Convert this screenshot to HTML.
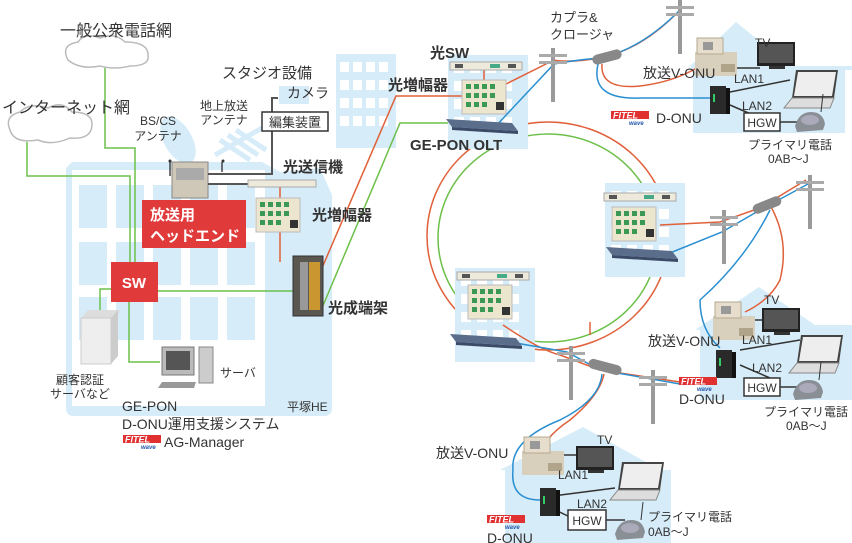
<!DOCTYPE html>
<html><head><meta charset="utf-8"><style>
html,body{margin:0;padding:0;background:#fff}
svg{display:block}
text{font-family:"Liberation Sans","Noto Sans CJK JP",sans-serif;fill:#333}
.b{font-weight:bold}
</style></head><body>
<svg width="852" height="543" viewBox="0 0 852 543" xmlns="http://www.w3.org/2000/svg">
<defs>
 <g id="amp"><rect x="0" y="0" width="44" height="34" fill="#ece6cf" stroke="#bbb"/>
  <g fill="#3a9a55"><rect x="4" y="4" width="5" height="5"/><rect x="12" y="4" width="5" height="5"/><rect x="20" y="4" width="5" height="5"/><rect x="28" y="4" width="5" height="5"/>
  <rect x="4" y="13" width="5" height="5"/><rect x="12" y="13" width="5" height="5"/><rect x="20" y="13" width="5" height="5"/><rect x="28" y="13" width="5" height="5"/>
  <rect x="4" y="22" width="5" height="5"/><rect x="12" y="22" width="5" height="5"/><rect x="20" y="22" width="5" height="5"/></g>
  <rect x="34" y="22" width="8" height="8" fill="#333"/></g>
 <g id="sw1"><rect x="0" y="0" width="72" height="8" fill="#eeeadb" stroke="#aaa"/><rect x="5" y="2" width="8" height="4" fill="#555"/><rect x="40" y="2" width="10" height="4" fill="#4a8"/><rect x="58" y="2" width="8" height="4" fill="#555"/></g>
 <g id="olt"><polygon points="0,0 66,4 72,12 6,8" fill="#5a6e8c"/><polygon points="6,8 72,12 72,15 6,11" fill="#3b4a66"/></g>
 <g id="vonu"><rect x="0" y="6" width="42" height="24" fill="#d9cfbd"/><rect x="2" y="-8" width="26" height="16" fill="#e6ddcc" stroke="#b5a98f"/><rect x="8" y="-4" width="10" height="8" fill="#999"/><rect x="26" y="18" width="14" height="8" fill="#b0a48a"/></g>
 <g id="tv"><rect x="0" y="0" width="38" height="24" fill="#222"/><rect x="2" y="2" width="34" height="19" fill="#555"/><rect x="12" y="24" width="16" height="3" fill="#333"/></g>
 <g id="lap"><polygon points="6,0 48,0 44,28 2,28" fill="#444"/><polygon points="8,2 46,2 42,26 4,26" fill="#eee"/><polygon points="2,28 44,28 40,38 -6,38" fill="#ddd" stroke="#888"/></g>
 <g id="phone"><path d="M0,18 Q4,4 16,4 Q28,4 30,16 L28,22 L2,24 Z" fill="#8a8f96"/><ellipse cx="15" cy="12" rx="9" ry="5" fill="#aab"/><line x1="26" y1="4" x2="28" y2="-14" stroke="#333"/></g>
 <g id="donu"><rect x="0" y="0" width="16" height="28" fill="#2a2a2a"/><rect x="16" y="2" width="4" height="26" fill="#111"/><rect x="3" y="8" width="2" height="8" fill="#3c6"/></g>
 <g id="fitel"><rect x="0" y="1" width="38" height="8" fill="#e03030"/><text x="2" y="8.5" font-size="9" font-weight="bold" style="fill:#fff;font-style:italic">FITEL</text><text x="18" y="15" font-size="6" style="fill:#2255aa;font-style:italic;font-weight:bold">wave</text></g>
 <g id="pole"><rect x="-2" y="0" width="4" height="54" fill="#9a9a9a"/><rect x="-14" y="6" width="28" height="3" fill="#aaa"/><rect x="-14" y="13" width="28" height="3" fill="#aaa"/></g>
 <g id="bld"><rect x="0" y="0" width="80" height="94" fill="#d6ecf8"/>
  <g fill="#fff"><rect x="6" y="8" width="10" height="10"/><rect x="22" y="8" width="10" height="10"/><rect x="38" y="8" width="10" height="10"/><rect x="54" y="8" width="10" height="10"/>
  <rect x="6" y="26" width="10" height="10"/><rect x="22" y="26" width="10" height="10"/><rect x="38" y="26" width="10" height="10"/><rect x="54" y="26" width="10" height="10"/>
  <rect x="6" y="44" width="10" height="10"/><rect x="22" y="44" width="10" height="10"/><rect x="38" y="44" width="10" height="10"/><rect x="54" y="44" width="10" height="10"/>
  <rect x="6" y="62" width="10" height="10"/><rect x="22" y="62" width="10" height="10"/><rect x="38" y="62" width="10" height="10"/><rect x="54" y="62" width="10" height="10"/></g></g>
</defs>

<path d="M690,66 L736,22 L790,66 L852,66 L852,70 L845,70 L845,133 L693,133 L693,70 Z" fill="#d6ecf8"/>
<path d="M695,330 L759,287 L815,325 L852,325 L852,400 L700,400 L700,330 Z" fill="#d6ecf8"/>
<path d="M500,470 L583,427 L660,470 L671,470 L671,543 L505,543 L505,470 Z" fill="#d6ecf8"/>

<g transform="translate(336,54)"><rect width="60" height="94" fill="#d6ecf8"/><g fill="#fff"><rect x="4" y="8" width="9" height="10"/><rect x="17" y="8" width="9" height="10"/><rect x="30" y="8" width="9" height="10"/><rect x="43" y="8" width="9" height="10"/><rect x="4" y="26" width="9" height="10"/><rect x="17" y="26" width="9" height="10"/><rect x="30" y="26" width="9" height="10"/><rect x="43" y="26" width="9" height="10"/><rect x="4" y="44" width="9" height="10"/><rect x="17" y="44" width="9" height="10"/><rect x="30" y="44" width="9" height="10"/><rect x="43" y="44" width="9" height="10"/><rect x="4" y="62" width="9" height="10"/><rect x="17" y="62" width="9" height="10"/><rect x="30" y="62" width="9" height="10"/><rect x="43" y="62" width="9" height="10"/></g></g>

<path d="M72,162 L262,162 L280,172 L320,168 L332,195 L332,408 Q332,416 324,416 L74,416 Q66,416 66,408 L66,168 Z" fill="#d6ecf8"/>
<rect x="72" y="170" width="193" height="236" fill="#fff"/>
<g fill="#d6ecf8">
<rect x="79" y="185" width="28" height="43"/><rect x="116" y="185" width="28" height="43"/><rect x="153" y="185" width="28" height="43"/><rect x="190" y="185" width="28" height="43"/><rect x="227" y="185" width="28" height="43"/>
<rect x="79" y="242" width="28" height="43"/><rect x="116" y="242" width="28" height="43"/><rect x="153" y="242" width="28" height="43"/><rect x="190" y="242" width="28" height="43"/><rect x="227" y="242" width="28" height="43"/>
<rect x="79" y="297" width="28" height="43"/><rect x="116" y="297" width="28" height="43"/><rect x="153" y="297" width="28" height="43"/><rect x="190" y="297" width="28" height="43"/><rect x="227" y="297" width="28" height="43"/>
</g>
<ellipse cx="178" cy="140" rx="14" ry="26" fill="#d6ecf8" transform="rotate(-30 178 140)"/>
<path d="M215,155 L262,128 M220,140 L250,160 M228,135 L258,155 M236,130 L266,150" stroke="#d6ecf8" stroke-width="5"/>
<rect x="279" y="86" width="30" height="18" fill="#d6ecf8"/>

<g fill="#fff" stroke="#bbb" stroke-width="1.5">
<path d="M68,60 Q60,45 78,42 Q85,32 100,38 Q115,32 125,42 Q148,42 148,55 Q150,66 130,66 Q115,70 100,66 Q80,70 68,60 Z"/>
<path d="M10,130 Q4,116 20,112 Q30,102 48,108 Q62,100 72,112 Q92,112 92,124 Q92,140 70,138 Q52,146 38,140 Q14,144 10,130 Z"/>
</g>

<g stroke="#6cc04a" stroke-width="1.5" fill="none">
<path d="M105,68 V148 H135 V264"/>
<path d="M27,142 V176 H130 V264"/>
<path d="M111,289 H100 V318"/>
<path d="M129,302 V362 H160"/>
<path d="M158,291 H295"/>
<path d="M322,308 L400,123 H452"/>
</g>
<ellipse cx="548" cy="236" rx="121" ry="114" fill="none" stroke="#e0603a" stroke-width="1.5"/>
<ellipse cx="548" cy="238" rx="110" ry="104" fill="none" stroke="#6cc04a" stroke-width="1.5"/>
<use href="#bld" x="605" y="183"/>
<use href="#bld" x="455" y="268"/>
<use href="#bld" x="448" y="55"/>

<g stroke="#e0603a" stroke-width="1.5" fill="none">
<path d="M280,186 V262"/>
<path d="M322,268 L396,96 H462"/>
<path d="M484,62 V82"/>
<path d="M506,84 L550,62"/>
<path d="M553,60 Q570,63 600,58 Q640,50 676,14"/>
<path d="M602,64 Q600,90 640,86 Q690,80 720,50"/>
<path d="M503,325 Q540,350 560,355 L600,370 L680,382"/>
<path d="M604,374 Q600,395 570,420 Q540,440 540,460"/>
<path d="M660,225 L720,222 L760,208 L806,180"/>
<path d="M770,205 Q790,240 780,280 Q770,300 745,312"/>
<path d="M590,322 V335"/>
</g>
<g stroke="#2a8fd0" stroke-width="1.5" fill="none">
<path d="M494,128 L554,64 Q575,60 600,58 Q640,50 680,10"/>
<path d="M598,64 Q590,100 640,98 L712,98"/>
<path d="M510,342 L567,352 L600,370 L680,384"/>
<path d="M602,374 Q600,400 560,420 Q510,440 513,470 Q510,500 540,500"/>
<path d="M665,255 L722,232 L760,210 L808,184"/>
<path d="M770,210 Q745,260 700,300 Q700,330 720,348"/>
</g>

<use href="#pole" x="553" y="48"/>
<use href="#pole" x="680" y="0"/>
<rect x="592" y="52" width="30" height="10" rx="5" fill="#888" transform="rotate(-15 607 57)"/>
<use href="#pole" x="724" y="210"/>
<use href="#pole" x="810" y="175"/>
<rect x="752" y="200" width="30" height="10" rx="5" fill="#888" transform="rotate(-22 767 205)"/>
<use href="#pole" x="571" y="346"/>
<use href="#pole" x="653" y="370"/>
<rect x="588" y="362" width="34" height="10" rx="5" fill="#888" transform="rotate(15 605 367)"/>

<use href="#sw1" x="450" y="62"/><use href="#amp" x="462" y="80"/><use href="#olt" x="446" y="119"/>
<use href="#sw1" x="604" y="193"/><use href="#amp" x="612" y="207"/><use href="#olt" x="606" y="247"/>
<use href="#sw1" x="457" y="272"/><use href="#amp" x="468" y="285"/><use href="#olt" x="450" y="334"/>

<rect x="172" y="162" width="36" height="36" fill="#cfc8b8" stroke="#888"/>
<rect x="176" y="168" width="28" height="12" fill="#aaa"/>
<path d="M170,162 V176 M222,162 V172" stroke="#444" stroke-width="1.5"/>
<circle cx="170" cy="161" r="1.5" fill="#333"/><circle cx="223" cy="161" r="1.5" fill="#333"/>
<path d="M208,174 H272 V98 H278 M208,184 H248" stroke="#555" stroke-width="2" fill="none"/>
<rect x="248" y="180" width="68" height="7" fill="#eeeadb" stroke="#aaa"/>
<use href="#amp" x="256" y="198"/>
<rect x="293" y="256" width="30" height="60" fill="#5a5650" stroke="#333"/>
<rect x="300" y="262" width="8" height="48" fill="#999"/>
<rect x="309" y="262" width="11" height="48" fill="#c9962f"/>
<polygon points="81,318 88,310 120,310 117,318" fill="#ddd"/>
<rect x="81" y="318" width="30" height="46" fill="#eee" stroke="#ccc"/>
<polygon points="111,318 118,310 118,356 111,364" fill="#ccc"/>
<rect x="162" y="347" width="32" height="28" fill="#bbb" stroke="#777"/>
<rect x="166" y="351" width="24" height="19" fill="#555"/>
<rect x="199" y="347" width="14" height="36" fill="#ccc" stroke="#888"/>
<polygon points="158,388 194,388 196,382 162,382" fill="#999"/>

<rect x="111" y="262" width="47" height="40" fill="#e13a3a"/>
<text x="134" y="288" font-size="15" class="b" text-anchor="middle" style="fill:#fff">SW</text>
<rect x="142" y="200" width="104" height="48" fill="#e13a3a"/>
<text x="150" y="220" font-size="15" class="b" style="fill:#fff">放送用</text>
<text x="150" y="241" font-size="15" class="b" style="fill:#fff">ヘッドエンド</text>
<rect x="262" y="112" width="66" height="19" fill="#fff" stroke="#333" stroke-width="1.5"/>
<text x="295" y="127" font-size="13" text-anchor="middle">編集装置</text>

<g stroke="#333" stroke-width="1.5" fill="none">
<path d="M735,68 H760 M730,92 L790,80 M730,105 L760,118 M780,122 H805"/>
<path d="M755,320 H775 M740,350 L800,340 M740,365 L770,378 M780,387 H800"/>
<path d="M560,455 H580 M545,497 L615,488 M545,505 L572,518 M606,520 H625"/>
</g>
<use href="#vonu" x="695" y="46"/><use href="#tv" x="757" y="42"/><use href="#lap" x="790" y="70"/><use href="#donu" x="710" y="86"/><use href="#phone" x="795" y="108"/>
<rect x="744" y="113" width="36" height="18" fill="#fff" stroke="#333" stroke-width="1.5"/>
<use href="#vonu" x="713" y="310"/><use href="#tv" x="762" y="308"/><use href="#lap" x="795" y="335"/><use href="#donu" x="716" y="350"/><use href="#phone" x="793" y="376"/>
<rect x="744" y="378" width="36" height="18" fill="#fff" stroke="#333" stroke-width="1.5"/>
<use href="#vonu" x="522" y="445"/><use href="#tv" x="576" y="446"/><use href="#lap" x="616" y="462"/><use href="#donu" x="540" y="488"/><use href="#phone" x="615" y="516"/>
<rect x="568" y="510" width="38" height="20" fill="#fff" stroke="#333" stroke-width="1.5"/>

<text x="60" y="36" font-size="16">一般公衆電話網</text>
<text x="2" y="113" font-size="16">インターネット網</text>
<text x="158" y="125" font-size="12" text-anchor="middle">BS/CS</text>
<text x="158" y="140" font-size="12" text-anchor="middle">アンテナ</text>
<text x="224" y="110" font-size="12" text-anchor="middle">地上放送</text>
<text x="224" y="124" font-size="12" text-anchor="middle">アンテナ</text>
<text x="222" y="78" font-size="15">スタジオ設備</text>
<text x="287" y="98" font-size="14">カメラ</text>
<text x="283" y="172" font-size="15" class="b">光送信機</text>
<text x="312" y="220" font-size="15" class="b">光増幅器</text>
<text x="328" y="313" font-size="15" class="b">光成端架</text>
<text x="220" y="377" font-size="12">サーバ</text>
<text x="80" y="384" font-size="12" text-anchor="middle">顧客認証</text>
<text x="80" y="398" font-size="12" text-anchor="middle">サーバなど</text>
<text x="287" y="411" font-size="12">平塚HE</text>
<text x="122" y="411" font-size="14">GE-PON</text>
<text x="122" y="429" font-size="14">D-ONU運用支援システム</text>
<use href="#fitel" x="123" y="434"/>
<text x="164" y="447" font-size="14">AG-Manager</text>

<text x="430" y="58" font-size="15" class="b">光SW</text>
<text x="388" y="90" font-size="15" class="b">光増幅器</text>
<text x="410" y="150" font-size="15" class="b">GE-PON OLT</text>
<text x="550" y="22" font-size="13">カプラ&amp;</text>
<text x="550" y="39" font-size="13">クロージャ</text>

<text x="643" y="78" font-size="14">放送V-ONU</text>
<text x="755" y="47" font-size="12">TV</text>
<text x="734" y="83" font-size="12">LAN1</text>
<text x="742" y="110" font-size="12">LAN2</text>
<text x="762" y="127" font-size="12" text-anchor="middle">HGW</text>
<use href="#fitel" x="611" y="110"/>
<text x="656" y="123" font-size="14">D-ONU</text>
<text x="748" y="149" font-size="12">プライマリ電話</text>
<text x="768" y="163" font-size="12">0AB～J</text>

<text x="648" y="346" font-size="14">放送V-ONU</text>
<text x="764" y="304" font-size="12">TV</text>
<text x="742" y="344" font-size="12">LAN1</text>
<text x="752" y="372" font-size="12">LAN2</text>
<text x="762" y="392" font-size="12" text-anchor="middle">HGW</text>
<use href="#fitel" x="679" y="376"/>
<text x="679" y="404" font-size="14">D-ONU</text>
<text x="764" y="416" font-size="12">プライマリ電話</text>
<text x="786" y="430" font-size="12">0AB～J</text>

<text x="436" y="458" font-size="14">放送V-ONU</text>
<text x="597" y="444" font-size="12">TV</text>
<text x="558" y="479" font-size="12">LAN1</text>
<text x="577" y="508" font-size="12">LAN2</text>
<text x="587" y="525" font-size="12" text-anchor="middle">HGW</text>
<use href="#fitel" x="487" y="514"/>
<text x="487" y="543" font-size="14">D-ONU</text>
<text x="648" y="521" font-size="12">プライマリ電話</text>
<text x="648" y="536" font-size="12">0AB～J</text>
</svg>
</body></html>
